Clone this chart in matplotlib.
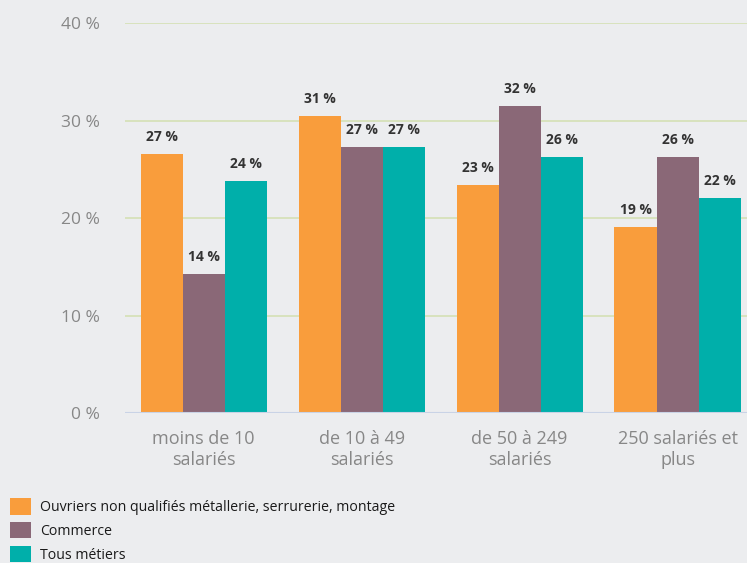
import matplotlib.pyplot as plt
import numpy as np

plt.rcParams['font.family'] = ['Open Sans', 'DejaVu Sans']

# data
categories = ["moins de 10\nsalariés", "de 10 à 49\nsalariés", "de 50 à 249\nsalariés", "250 salariés et\nplus"]
series_names = ["Ouvriers non qualifiés métallerie, serrurerie, montage", "Commerce", "Tous métiers"]
ouvriers = [26.6, 30.5, 23.4, 19.1]
commerce = [14.3, 27.3, 31.5, 26.3]
tous = [23.8, 27.3, 26.3, 22.1]
ouvriers_lbl = ["27 %", "31 %", "23 %", "19 %"]
commerce_lbl = ["14 %", "27 %", "32 %", "26 %"]
tous_lbl = ["24 %", "27 %", "26 %", "22 %"]
yticks = [0, 10, 20, 30, 40]

colors = ['#F99D3C', '#8A6877', '#00AFAA']
bg = '#ECEDEF'

fig = plt.figure(figsize=(7.47, 5.63), dpi=100, facecolor=bg)
ax = fig.add_axes([0.167, 0.2664, 0.833, 0.6926], facecolor=bg)

x = np.arange(len(categories))
width = 0.266
handles = []
for i, (vals, lbls) in enumerate([(ouvriers, ouvriers_lbl), (commerce, commerce_lbl), (tous, tous_lbl)]):
    b = ax.bar(x + (i - 1) * width, vals, width, color=colors[i], label=series_names[i], zorder=3)
    handles.append(b)
    for rect, t in zip(b, lbls):
        ax.annotate(t, (rect.get_x() + rect.get_width() / 2, rect.get_height()),
                    xytext=(0, 12), textcoords='offset points', ha='center', va='center',
                    fontsize=10, fontweight='bold', color='#333333')

ax.set_ylim(0, 40)
ax.set_xlim(-0.5, 3.44)
ax.set_yticks(yticks)
ax.set_yticklabels([f"{v} %" for v in yticks])
ax.yaxis.grid(True, color='#D5E0B5', linewidth=1.2, zorder=0)
ax.set_axisbelow(True)
for s in ['top', 'right', 'left', 'bottom']:
    ax.spines[s].set_visible(False)
ax.axhline(0, color='#C9D3E6', linewidth=1.5, zorder=4)
ax.tick_params(axis='y', length=0, pad=18, labelsize=12.5, labelcolor='#878787')
ax.tick_params(axis='x', length=0, pad=12, labelsize=13, labelcolor='#878787')
ax.set_xticks(x)
ax.set_xticklabels(categories, linespacing=1.22)

fig.legend(handles=handles, labels=series_names, loc='upper left', bbox_to_anchor=(0.0134, 0.116),
           frameon=False, fontsize=10.2, handlelength=1.5, handleheight=1.45, handletextpad=0.62,
           labelspacing=0.48, borderaxespad=0, borderpad=0, labelcolor='#1A1A1A')

fig.savefig('out.png', dpi=100, facecolor=bg)
